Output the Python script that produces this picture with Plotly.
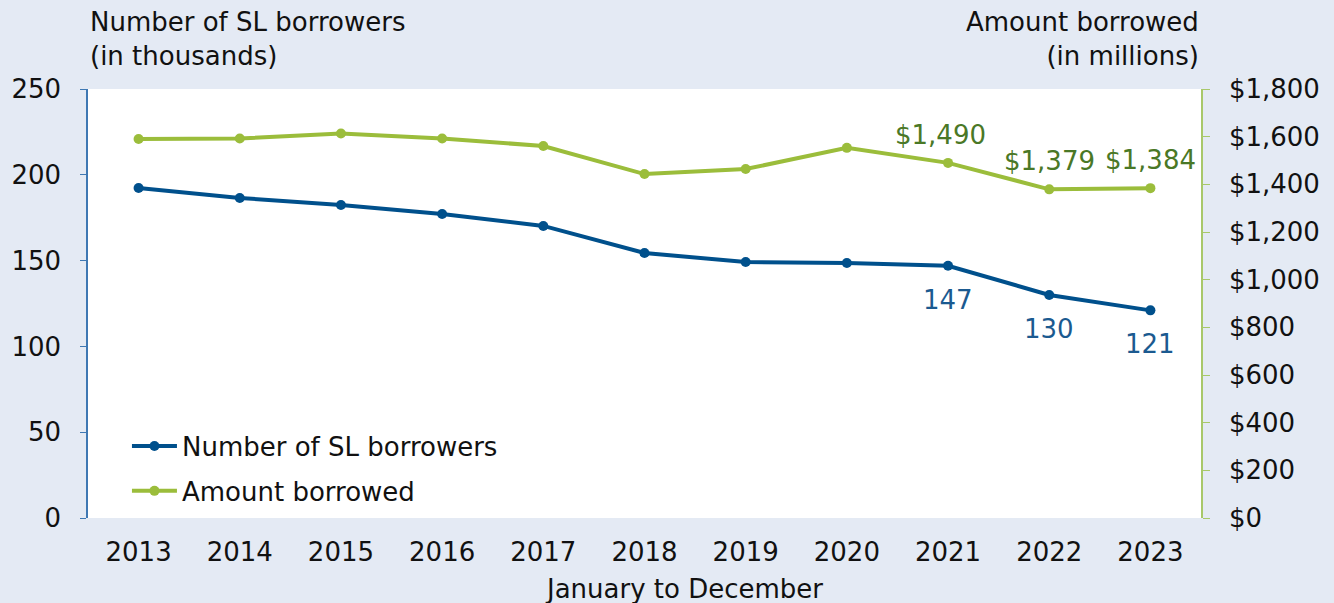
import plotly.graph_objects as go

years = ["2013", "2014", "2015", "2016", "2017", "2018", "2019", "2020", "2021", "2022", "2023"]
borrowers = [192.3, 186.5, 182.4, 177.2, 170.2, 154.4, 149.2, 148.6, 147, 130, 121]
amount = [1590, 1592, 1613, 1592, 1561, 1443, 1464, 1553, 1490, 1379, 1384]
left_ticks = [0, 50, 100, 150, 200, 250]
right_ticks = [0, 200, 400, 600, 800, 1000, 1200, 1400, 1600, 1800]
labeled_idx = [8, 9, 10]

BLUE = "#00508c"
GREEN = "#9bbd3b"
BLUE_LBL = "#1b5a90"
GREEN_LBL = "#4a7826"
BG = "#e4eaf4"
FONT = "DejaVu Sans"
FS = 26

fig = go.Figure()
fig.add_trace(go.Scatter(x=years, y=borrowers, name="Number of SL borrowers",
                         mode="lines+markers", line=dict(color=BLUE, width=4),
                         marker=dict(size=10, color=BLUE), yaxis="y", legendgroup="a"))
fig.add_trace(go.Scatter(x=years, y=amount, name="Amount borrowed",
                         mode="lines+markers", line=dict(color=GREEN, width=4),
                         marker=dict(size=10, color=GREEN), yaxis="y2", legendgroup="b"))

for i in labeled_idx:
    fig.add_annotation(x=i, y=borrowers[i], xref="x", yref="y", text=f"{borrowers[i]:.0f}",
                       showarrow=False, yshift=-34, font=dict(color=BLUE_LBL, size=FS, family=FONT))
    fig.add_annotation(x=i, y=amount[i], xref="x", yref="y2", text=f"${amount[i]:,}",
                       showarrow=False, yshift=28, xshift=(-8 if i == 8 else 0),
                       font=dict(color=GREEN_LBL, size=FS, family=FONT))

fig.add_annotation(xref="paper", yref="paper", x=0, y=1.0, xanchor="left", yanchor="bottom",
                   yshift=16, align="left", showarrow=False,
                   text="Number of SL borrowers<br>(in thousands)",
                   font=dict(color="#111", size=FS, family=FONT))
fig.add_annotation(xref="paper", yref="paper", x=1.0, y=1.0, xanchor="right", yanchor="bottom",
                   yshift=16, align="right", showarrow=False,
                   text="Amount borrowed<br>(in millions)",
                   font=dict(color="#111", size=FS, family=FONT))
fig.add_annotation(xref="paper", yref="paper", x=0.5355, y=-0.165, xanchor="center", yanchor="middle",
                   showarrow=False, text="January to December",
                   font=dict(color="#111", size=FS, family=FONT))

fig.update_layout(
    width=1334, height=603,
    margin=dict(l=88, r=133, t=89, b=85),
    paper_bgcolor=BG, plot_bgcolor="white",
    font=dict(family=FONT, size=FS, color="#111"),
    showlegend=True,
    legend=dict(x=0.035, y=0.115, xanchor="left", yanchor="middle", bgcolor="rgba(0,0,0,0)",
                font=dict(size=FS, family=FONT, color="#111"), itemwidth=45, tracegroupgap=8),
    xaxis=dict(type="category", range=[-0.5, 10.5], showgrid=False, showline=False,
               ticks="", ticklabelstandoff=16, zeroline=False),
    yaxis=dict(range=[0, 250], tickvals=left_ticks, showgrid=False, zeroline=False,
               showline=True, linecolor="#3f78b3", linewidth=1.5,
               ticks="outside", ticklen=6, tickcolor="#3f78b3", ticklabelstandoff=14),
    yaxis2=dict(range=[0, 1800], tickvals=right_ticks,
                ticktext=[f"${v:,}" for v in right_ticks], tickmode="array",
                overlaying="y", side="right",
                showgrid=False, zeroline=False, showline=True, linecolor="#a8c86a", linewidth=1.5,
                ticks="outside", ticklen=7, tickcolor="#a8c86a", ticklabelstandoff=14),
)

fig.write_html("out.html", config={"displayModeBar": False},
               post_script="document.body.style.margin='0';")
